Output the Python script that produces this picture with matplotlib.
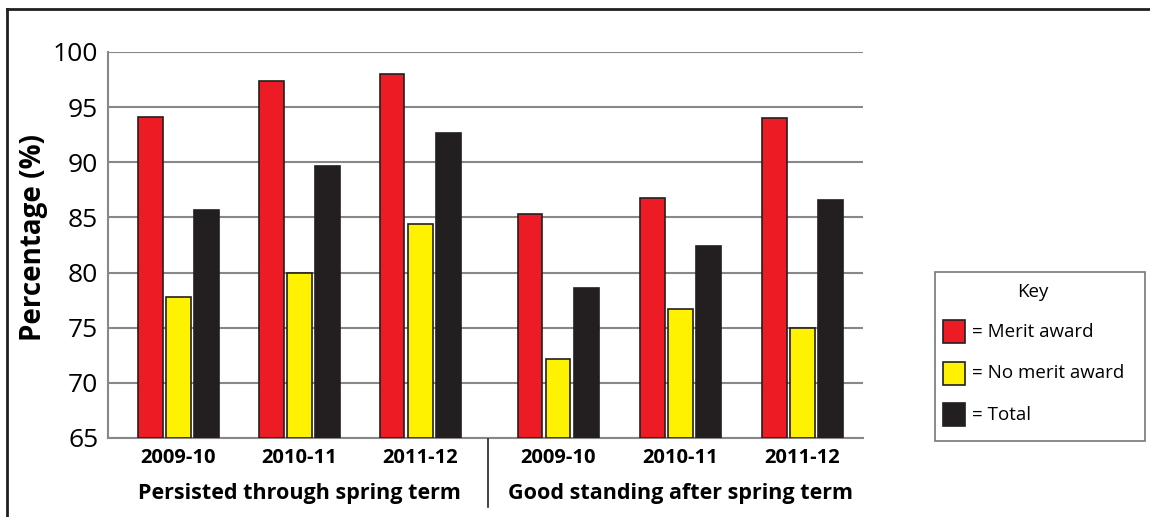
import matplotlib.pyplot as plt
from matplotlib.patches import Rectangle
from matplotlib.lines import Line2D
import numpy as np

years = ['2009-10', '2010-11', '2011-12', '2009-10', '2010-11', '2011-12']
groups = ['Persisted through spring term', 'Good standing after spring term']
merit = [94.1, 97.4, 98.0, 85.3, 86.8, 94.0]
no_merit = [77.8, 80.0, 84.4, 72.2, 76.7, 75.0]
total = [85.7, 89.7, 92.7, 78.6, 82.4, 86.6]

plt.rcParams['font.family'] = ['Open Sans', 'DejaVu Sans']

fig = plt.figure(figsize=(11.5, 5.17), dpi=100)
W, H = 1150, 517
# axes box in pixels: x 108..863, y 52..438
ax = fig.add_axes([108 / W, 1 - 438 / H, (863 - 108) / W, (438 - 52) / H])

x = np.array([0, 1, 2, 3.14, 4.15, 5.16])
bw = 0.205
off = 0.232
ax.bar(x - off, np.array(merit) - 65, bw, bottom=65, color='#ed1c24', edgecolor='#231f20', linewidth=1.2, zorder=3)
ax.bar(x, np.array(no_merit) - 65, bw, bottom=65, color='#fff200', edgecolor='#231f20', linewidth=1.2, zorder=3)
ax.bar(x + off, np.array(total) - 65, bw, bottom=65, color='#231f20', edgecolor='#231f20', linewidth=1.2, zorder=3)

ax.set_ylim(65, 100)
ax.set_xlim(-0.58, 5.66)
ax.set_yticks(range(65, 101, 5))
ax.yaxis.grid(True, color='#888888', linewidth=1.5, zorder=0)
ax.tick_params(axis='y', length=0, labelsize=19, pad=7)
ax.tick_params(axis='x', length=0, pad=7)
ax.set_xticks(x)
ax.set_xticklabels(years, fontsize=14.5, fontweight='bold')
for s in ['top', 'right']:
    ax.spines[s].set_visible(False)
for s in ['left', 'bottom']:
    ax.spines[s].set_color('#888888')
    ax.spines[s].set_linewidth(1.5)
ax.set_ylabel('Percentage (%)', fontsize=20, fontweight='bold')
ax.yaxis.set_label_coords((48 - 108) / (863 - 108), 0.52)

# group labels and divider
ax.text(1, -0.143, groups[0], transform=ax.get_xaxis_transform(), ha='center', va='center',
        fontsize=15.5, fontweight='bold')
ax.text(4.15, -0.143, groups[1], transform=ax.get_xaxis_transform(), ha='center', va='center',
        fontsize=15.5, fontweight='bold')
fig.add_artist(Line2D([488 / W, 488 / W], [1 - 439 / H, 1 - 507 / H], color='#231f20', linewidth=1.2))

# outer frame (top and left only)
fig.add_artist(Line2D([7 / W, 1], [1 - 8.5 / H, 1 - 8.5 / H], color='#231f20', linewidth=2))
fig.add_artist(Line2D([7 / W, 7 / W], [1 - 8.5 / H, 0], color='#231f20', linewidth=2))

# key box
fig.add_artist(Rectangle((935 / W, 1 - 441 / H), 210 / W, 169 / H, fill=False,
                         edgecolor='#777777', linewidth=1.2))
fig.text(1033 / W, 1 - 292 / H, 'Key', ha='center', va='center', fontsize=13.5)
labels = ['= Merit award', '= No merit award', '= Total']
colors = ['#ed1c24', '#fff200', '#231f20']
for i, (lab, c) in enumerate(zip(labels, colors)):
    cy = 332 + i * 41.5
    fig.add_artist(Rectangle((943 / W, 1 - (cy + 11) / H), 22 / W, 23 / H,
                             facecolor=c, edgecolor='#231f20', linewidth=1.2))
    fig.text(972 / W, 1 - cy / H, lab, ha='left', va='center', fontsize=13.5)

fig.savefig('out.png', dpi=100)
